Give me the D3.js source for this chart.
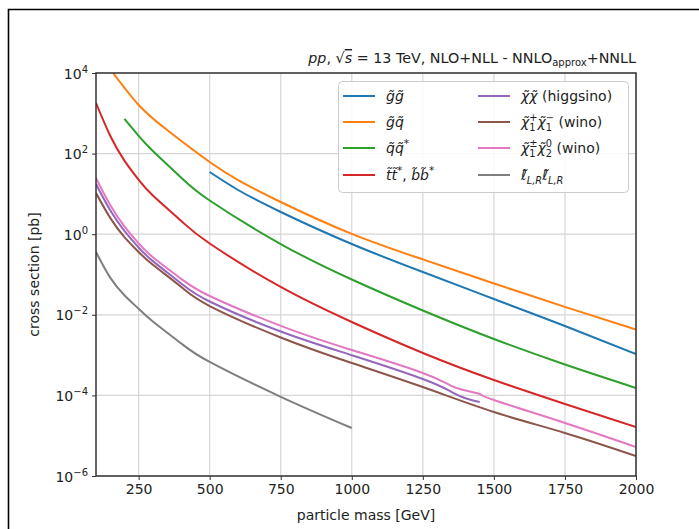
<!DOCTYPE html>
<html>
<head>
<meta charset="utf-8">
<script src="https://cdn.jsdelivr.net/npm/d3@7"></script>
<style>
  body { margin: 0; background: #fff; }
  text { font-family: "DejaVu Sans", sans-serif; fill: #222; white-space: pre; }
</style>
</head>
<body>
<div id="chart"></div>
<script>
// masses in GeV, cross sections in pb
var gluinoMass = [500, 600, 750, 1000, 1250, 1500, 1750, 2000];
var gluinoXsec = [34.9, 12.5, 3.56, 0.571, 0.115, 0.0247, 0.00527, 0.00106];

var gqMass = [160, 250, 350, 500, 600, 750, 1000, 1250, 1500, 1750, 2000];
var gqXsec = [10000, 1607, 385, 61.9, 22.1, 6.29, 1.02, 0.237, 0.0598, 0.0157, 0.0043];

var sqMass = [200, 250, 300, 400, 500, 750, 1000, 1250, 1500, 1750, 2000];
var sqXsec = [723, 274, 116, 25.2, 6.86, 0.571, 0.0752, 0.0128, 0.00251, 5.85e-4, 1.53e-4];

var stopMass = [100, 150, 200, 250, 300, 400, 500, 750, 1000, 1250, 1500, 1750, 2000];
var stopXsec = [1803, 278, 67.0, 22.4, 9.18, 2.13, 0.587, 0.049, 0.00662, 0.00113, 2.41e-4, 6.12e-5, 1.64e-5];

var higgsinoMass = [100, 150, 200, 250, 300, 400, 500, 750, 1000, 1250, 1350, 1400, 1450];
var higgsinoXsec = [17.6, 3.92, 1.21, 0.468, 0.215, 0.0598, 0.0214, 3.85e-3, 9.95e-4, 2.55e-4, 1.23e-4, 8.53e-5, 6.85e-5];

var c1c1Mass = [100, 150, 200, 250, 300, 400, 500, 750, 1000, 1250, 1500, 1750, 2000];
var c1c1Xsec = [10.5, 2.54, 0.847, 0.361, 0.174, 0.049, 0.0165, 2.74e-3, 6.37e-4, 1.61e-4, 3.87e-5, 1.17e-5, 3.13e-6];

var c1n2Mass = [100, 150, 200, 250, 300, 400, 500, 750, 1000, 1250, 1350, 1400, 1450, 1500, 1750, 2000];
var c1n2Xsec = [24.8, 5.31, 1.57, 0.594, 0.269, 0.0778, 0.0293, 5.33e-3, 1.34e-3, 3.6e-4, 1.73e-4, 1.32e-4, 1.08e-4, 7.69e-5, 2.07e-5, 5.25e-6];

var sleptonMass = [100, 150, 200, 250, 300, 400, 500, 750, 1000];
var sleptonXsec = [0.361, 0.0837, 0.0305, 0.0141, 6.82e-3, 1.94e-3, 6.75e-4, 9.23e-5, 1.55e-5];

var xTicks = [250, 500, 750, 1000, 1250, 1500, 1750, 2000];
var yTickExp = [-6, -4, -2, 0, 2, 4];

var colors = ["#1f77b4", "#ff7f0e", "#2ca02c", "#d62728", "#9467bd", "#8c564b", "#e377c2", "#7f7f7f"];

var series = [
  { m: gluinoMass, s: gluinoXsec },
  { m: gqMass, s: gqXsec },
  { m: sqMass, s: sqXsec },
  { m: stopMass, s: stopXsec },
  { m: higgsinoMass, s: higgsinoXsec },
  { m: c1c1Mass, s: c1c1Xsec },
  { m: c1n2Mass, s: c1n2Xsec },
  { m: sleptonMass, s: sleptonXsec }
];

var svgWidth = 699;
var svgHeight = 529;
var margin = { top: 73, right: 63, bottom: 53, left: 96 };
var width = svgWidth - margin.left - margin.right;
var height = svgHeight - margin.top - margin.bottom;

var svg = d3.select("#chart").append("svg")
  .attr("width", svgWidth)
  .attr("height", svgHeight);

// outer frame (left and top only)
svg.append("path")
  .attr("d", "M8.5,529 V9.5 H699")
  .attr("fill", "none")
  .attr("stroke", "#000")
  .attr("stroke-width", 1.6);

var chartGroup = svg.append("g")
  .attr("transform", `translate(${margin.left}, ${margin.top})`);

var x = d3.scaleLinear().domain([100, 2000]).range([0, width]);
var y = d3.scaleLog().domain([1e-6, 1e4]).range([height, 0]);

// grid
chartGroup.append("g").selectAll("line")
  .data(xTicks)
  .enter().append("line")
  .attr("x1", d => x(d)).attr("x2", d => x(d))
  .attr("y1", 0).attr("y2", height)
  .attr("stroke", "#d6d6d6").attr("stroke-width", 1.2);

chartGroup.append("g").selectAll("line")
  .data(yTickExp)
  .enter().append("line")
  .attr("x1", 0).attr("x2", width)
  .attr("y1", d => y(Math.pow(10, d))).attr("y2", d => y(Math.pow(10, d)))
  .attr("stroke", "#d6d6d6").attr("stroke-width", 1.2);

// curves
chartGroup.append("clipPath").attr("id", "clip")
  .append("rect").attr("width", width).attr("height", height);

var line = d3.line()
  .x(d => x(d[0]))
  .y(d => y(d[1]))
  .curve(d3.curveNatural);

chartGroup.append("g").attr("clip-path", "url(#clip)")
  .selectAll("path")
  .data(series)
  .enter().append("path")
  .attr("d", d => line(d.m.map((v, i) => [v, d.s[i]])))
  .attr("fill", "none")
  .attr("stroke", (d, i) => colors[i])
  .attr("stroke-width", 2);

// axes
var bottomAxis = d3.axisBottom(x).tickValues(xTicks).tickSize(4).tickPadding(4).tickFormat(d3.format("d"));
var xAxis = chartGroup.append("g")
  .attr("transform", `translate(0, ${height})`)
  .call(bottomAxis);
xAxis.select(".domain").remove();
xAxis.selectAll("text").attr("font-size", 14).attr("font-family", "DejaVu Sans").attr("fill", "#222");
xAxis.selectAll("line").attr("stroke", "#333");

var leftAxis = d3.axisLeft(y).tickValues(yTickExp.map(e => Math.pow(10, e))).tickSize(4).tickFormat("");
var yAxis = chartGroup.append("g").call(leftAxis);
yAxis.select(".domain").remove();
yAxis.selectAll("line").attr("stroke", "#333");

yAxis.selectAll(".tick").each(function(d) {
  var e = Math.round(Math.log10(d));
  var t = d3.select(this).append("text")
    .attr("x", -8).attr("y", 5)
    .attr("text-anchor", "end")
    .attr("font-size", 14);
  t.append("tspan").text("10");
  t.append("tspan").attr("dy", -6).attr("font-size", 10)
    .text(e < 0 ? "\u2212" + (-e) : String(e));
});

// spines
chartGroup.append("rect")
  .attr("width", width).attr("height", height)
  .attr("fill", "none").attr("stroke", "#333").attr("stroke-width", 1.5);

// axis labels
chartGroup.append("text")
  .attr("x", width / 2).attr("y", height + 44)
  .attr("text-anchor", "middle").attr("font-size", 14)
  .text("particle mass [GeV]");

chartGroup.append("text")
  .attr("transform", "rotate(-90)")
  .attr("x", -height / 2).attr("y", -57)
  .attr("text-anchor", "middle").attr("font-size", 14)
  .text("cross section [pb]");

// little math-text writer: parts laid out left to right, measured as we go
function mathText(g, parts, size) {
  var cx = 0, lastStart = 0, lastW = 0;
  parts.forEach(function(p) {
    var fs = size * (p.scale || 1);
    var startX = p.back ? lastStart : cx;
    var t = g.append("text")
      .attr("x", startX).attr("y", p.dy || 0)
      .attr("font-size", fs)
      .attr("font-style", p.it ? "italic" : "normal")
      .text(p.t);
    if (p.over) t.style("text-decoration", "overline");
    var w = t.node().getComputedTextLength();
    if (p.back) {
      cx = lastStart + Math.max(w, lastW);
    } else {
      lastStart = startX; lastW = w;
      cx = startX + w;
    }
  });
  return cx;
}

// title
var titleParts = [
  { t: "pp", it: true }, { t: ", \u221a" }, { t: "s", it: true, over: true },
  { t: " = 13 TeV, NLO+NLL - NNLO" },
  { t: "approx", scale: 0.7, dy: 3 },
  { t: "+NNLL" }
];
var titleG = svg.append("g");
var tw = mathText(titleG, titleParts, 14.3);
titleG.attr("transform", `translate(${margin.left + width - tw}, 63)`);

// legend
var til = "\u0303";
var legendLabels = [
  [{ t: "g" + til + "g" + til, it: true }],
  [{ t: "g" + til + "q" + til, it: true }],
  [{ t: "q" + til + "q" + til, it: true }, { t: "*", scale: 0.75, dy: -6 }],
  [{ t: "t" + til + "t" + til, it: true }, { t: "*", scale: 0.75, dy: -6 }, { t: ", " },
   { t: "b" + til + "b" + til, it: true }, { t: "*", scale: 0.75, dy: -6 }],
  [{ t: "\u03c7" + til + "\u03c7" + til, it: true }, { t: " (higgsino)" }],
  [{ t: "\u03c7" + til, it: true }, { t: "1", scale: 0.7, dy: 4 }, { t: "+", scale: 0.7, dy: -6, back: true },
   { t: "\u03c7" + til, it: true }, { t: "1", scale: 0.7, dy: 4 }, { t: "\u2212", scale: 0.7, dy: -6, back: true },
   { t: " (wino)" }],
  [{ t: "\u03c7" + til, it: true }, { t: "1", scale: 0.7, dy: 4 }, { t: "\u00b1", scale: 0.7, dy: -6, back: true },
   { t: "\u03c7" + til, it: true }, { t: "2", scale: 0.7, dy: 4 }, { t: "0", scale: 0.7, dy: -6, back: true },
   { t: " (wino)" }],
  [{ t: "\u2113" + til, it: true }, { t: "L,R", it: true, scale: 0.7, dy: 4 },
   { t: "\u2113" + til, it: true }, { t: "L,R", it: true, scale: 0.7, dy: 4 }]
];

var legend = svg.append("g");
legend.append("rect")
  .attr("x", 338.5).attr("y", 81.5)
  .attr("width", 290).attr("height", 111)
  .attr("rx", 4)
  .attr("fill", "#fff").attr("fill-opacity", 0.85)
  .attr("stroke", "#ccc").attr("stroke-width", 1);

var rowY = [96, 122, 148, 175];
legendLabels.forEach(function(parts, i) {
  var col = Math.floor(i / 4), row = i % 4;
  var lx = col === 0 ? 343 : 478;
  var ly = rowY[row];
  legend.append("line")
    .attr("x1", lx).attr("x2", lx + 32)
    .attr("y1", ly).attr("y2", ly)
    .attr("stroke", colors[i]).attr("stroke-width", 2);
  var g = legend.append("g").attr("transform", `translate(${lx + 43}, ${ly + 5})`);
  mathText(g, parts, 14);
});
</script>
</body>
</html>
